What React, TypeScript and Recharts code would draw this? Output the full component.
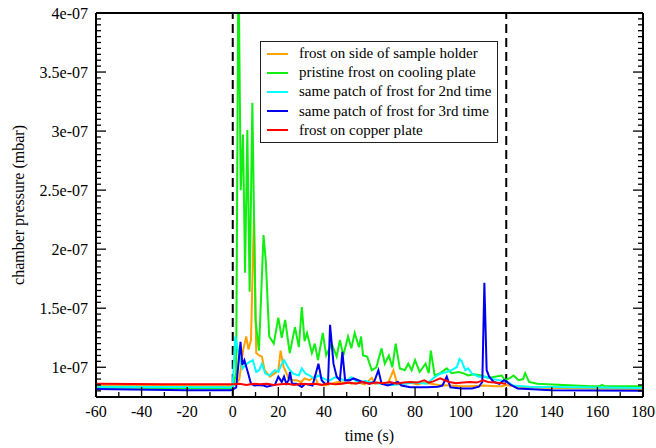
import { Label, Line, LineChart, ReferenceLine, XAxis, YAxis } from 'recharts'

const FONT = '"Liberation Serif", "Times New Roman", serif'

// pressure values are in units of 1e-8 mbar
const seriesNames = [
  'frost on side of sample holder',
  'pristine frost on cooling plate',
  'same patch of frost for 2nd time',
  'same patch of frost for 3rd time',
  'frost on copper plate',
]
const seriesColors = ['#ffa000', '#11ee11', '#00ffff', '#0000ee', '#ff0000']

const orangeT = [-60, -30, -1, 0, 1.5, 2.9, 4.6, 5.2, 5.9, 6.9, 8, 9.3, 10.3, 11.6, 12.8, 14, 16.3, 18.5, 20, 21, 22.3, 23, 24.5, 26, 28, 30, 31.5, 33.7, 35.9, 37.4, 40.4, 43.3, 46.3, 48.5, 50, 52, 55, 58, 61, 62.5, 65, 68, 70.5, 72, 75, 78, 81, 84, 87, 90, 95, 100, 105, 110, 115, 118, 120, 125, 140, 180]
const orangeV = [8.45, 8.42, 8.4, 8.45, 8.6, 9.0, 11.5, 12.0, 12.6, 11.5, 12.3, 22.9, 11.2, 11.0, 10.9, 9.75, 9.2, 9.5, 9.75, 11.4, 10.0, 9.75, 9.05, 8.9, 8.9, 8.75, 9.05, 8.9, 9.2, 8.6, 8.45, 8.6, 8.75, 8.7, 8.75, 8.6, 8.7, 8.55, 9.1, 8.6, 8.7, 8.6, 9.75, 8.7, 8.6, 8.7, 8.55, 8.7, 8.6, 8.5, 8.45, 8.4, 8.4, 8.45, 8.4, 8.4, 8.5, 8.35, 8.25, 8.15]

const greenT = [-60, -30, -1, 0, 1.5, 2.5, 3.5, 4.5, 5.4, 6.4, 7.4, 8.6, 10, 11.5, 13.5, 14.5, 16, 18, 20, 21.5, 23, 25, 27.3, 29, 30.3, 31.5, 32.6, 34.7, 36, 37.4, 39.5, 41, 43.4, 45.6, 47, 48.5, 50.6, 52, 53.5, 55.4, 56.3, 57.2, 59, 61, 63, 65.3, 66.7, 68.5, 70, 71.5, 73.3, 75.5, 77, 78.5, 80, 82, 84.6, 86, 86.9, 88.6, 91, 93.9, 96, 99, 101, 103.3, 106, 109, 112, 115, 118, 119.5, 121.7, 123.2, 125.4, 127.4, 128.3, 130, 133.6, 145, 157, 161, 162, 163, 180]
const greenV = [8.3, 8.25, 8.2, 8.3, 9.5, 45, 25.0, 29.7, 18, 30.1, 16.4, 32.4, 14.0, 11.4, 21.2, 19.0, 12.6, 12.0, 14.2, 12.5, 14.0, 11.2, 13.4, 11.7, 15.1, 12.2, 12.9, 11.2, 12.0, 10.6, 12.9, 11.0, 12.0, 10.9, 12.3, 11.0, 12.6, 11.6, 12.9, 11.7, 12.6, 11.0, 10.9, 9.75, 10.0, 11.6, 10.3, 11.0, 10.0, 12.0, 9.9, 9.75, 10.3, 9.75, 10.6, 9.6, 10.3, 9.5, 11.4, 9.3, 9.5, 9.9, 9.5, 9.6, 9.5, 9.3, 9.4, 9.3, 9.1, 9.2, 9.3, 8.9, 9.1, 9.3, 8.9, 9.0, 9.5, 8.75, 8.6, 8.5, 8.4, 8.4, 8.5, 8.4, 8.4]

const cyanT = [-60, -1, 0, 1.1, 2.9, 4.3, 5.5, 7.4, 8.8, 10.3, 11.6, 12.8, 14.2, 16, 18.5, 20, 21.3, 22.5, 23, 24.5, 26.5, 29, 30.3, 32, 33.7, 35.9, 37.4, 40.4, 42, 45, 47.5, 49.8, 52, 54, 56, 58, 61, 65, 70, 75, 80, 85, 88.9, 91, 93.9, 96, 98.3, 99.5, 100.5, 102, 103.3, 105, 108, 111, 114, 117, 120.6, 123, 130, 150, 180]
const cyanV = [8.35, 8.3, 8.4, 12.6, 10.9, 9.9, 10.2, 10.45, 10.6, 9.6, 9.75, 10.3, 9.5, 9.3, 9.75, 9.6, 10.2, 10.6, 10.45, 9.9, 9.45, 9.3, 9.9, 9.45, 9.3, 9.0, 9.3, 9.0, 8.85, 9.15, 9.0, 8.85, 9.15, 8.85, 8.7, 8.85, 8.7, 8.6, 8.5, 8.6, 8.7, 8.6, 9.2, 9.45, 9.6, 9.75, 10.0, 10.7, 10.5, 9.75, 9.9, 9.45, 9.2, 9.2, 9.0, 8.9, 8.75, 8.45, 8.35, 8.3, 8.25]

const blueT = [-60, -20, -1, 0, 1.5, 2.3, 3.4, 4.2, 5.1, 6.8, 8, 9.5, 11.5, 13.5, 15, 17, 18.5, 20, 21.5, 22.5, 23.5, 24.5, 25.1, 26, 28, 30.3, 31.8, 35, 37.6, 39, 40.4, 41.8, 42.7, 44.2, 45.6, 47, 48.1, 49.3, 51.5, 53, 55, 57, 60, 62, 63.9, 65.3, 68, 72.5, 74, 78, 85, 90, 92, 93.9, 95.5, 100, 105, 108, 109.5, 110.4, 111.4, 112.5, 114.5, 117, 119, 120, 122, 125, 140, 180]
const blueV = [8.15, 8.05, 8.05, 8.1, 8.3, 9.9, 12.15, 10.2, 10.6, 9.45, 8.6, 8.45, 8.5, 8.45, 8.35, 8.45, 8.5, 9.2, 8.75, 9.2, 8.6, 8.9, 9.6, 8.6, 8.6, 8.33, 8.6, 8.45, 10.3, 8.9, 8.6, 8.6, 13.6, 10.3, 9.2, 8.9, 11.3, 8.9, 8.9, 9.05, 8.9, 8.75, 8.6, 8.75, 9.75, 8.6, 8.45, 8.75, 8.45, 8.3, 8.3, 8.35, 8.45, 9.2, 8.3, 8.2, 8.2, 8.35, 8.75, 17.15, 9.75, 9.2, 8.75, 8.6, 8.9, 8.8, 8.5, 8.2, 8.05, 8.0]

const redT = [-60, -30, -1, 0, 3, 6, 9, 12, 15, 18, 21, 24, 27, 30, 33, 36, 39, 42, 45, 48, 51, 54, 57, 60, 63, 66, 69, 72, 75, 78, 81, 84, 86, 88, 91, 93, 95, 98, 101, 104, 107, 109.9, 112, 115, 118, 120]
const redV = [8.6, 8.57, 8.55, 8.55, 8.6, 8.5, 8.6, 8.55, 8.6, 8.5, 8.55, 8.6, 8.5, 8.6, 8.55, 8.6, 8.5, 8.65, 8.55, 8.6, 8.7, 8.6, 8.75, 8.6, 8.7, 8.65, 8.75, 8.6, 8.7, 8.75, 8.7, 8.9, 8.7, 8.8, 9.07, 8.9, 8.75, 8.65, 8.7, 8.75, 8.7, 8.9, 8.75, 8.7, 8.65, 8.6]

const xMajor = [-60, -40, -20, 0, 20, 40, 60, 80, 100, 120, 140, 160, 180]
const xLabels = ['-60', '-40', '-20', '0', '20', '40', '60', '80', '100', '120', '140', '160', '180']
const yMajor = [10, 15, 20, 25, 30, 35, 40]
const yLabels = ['1e-07', '1.5e-07', '2e-07', '2.5e-07', '3e-07', '3.5e-07', '4e-07']
const markers = [0, 120]

const xTicks: number[] = []
for (let t = -60; t <= 180; t += 10) xTicks.push(t)
const yTicks: number[] = []
for (let k = 15; k <= 80; k++) yTicks.push(k / 2)

const series = [
  { t: orangeT, v: orangeV },
  { t: greenT, v: greenV },
  { t: cyanT, v: cyanV },
  { t: blueT, v: blueV },
  { t: redT, v: redV },
].map((s, i) => ({
  name: seriesNames[i],
  color: seriesColors[i],
  data: s.t.map((t, j) => ({ t, v: s.v[j] })),
}))

const tickStroke = { stroke: '#000', strokeWidth: 1.3 }

function LeftTick(props: any) {
  const { x, y, payload } = props
  const ax = x + 8
  const i = yMajor.indexOf(payload.value)
  return (
    <g>
      <line x1={ax} x2={ax + (i >= 0 ? 10 : 5)} y1={y} y2={y} {...tickStroke} />
      {i >= 0 ? (
        <text x={x} y={y} dy="0.35em" textAnchor="end" fontSize={16} fontFamily={FONT} fill="#000">
          {yLabels[i]}
        </text>
      ) : null}
    </g>
  )
}

function RightTick(props: any) {
  const { x, y, payload } = props
  const len = yMajor.includes(payload.value) ? 10 : 5
  return <line x1={x} x2={x - len} y1={y} y2={y} {...tickStroke} />
}

function BottomTick(props: any) {
  const { x, y, payload } = props
  const ay = y - 9
  const i = xMajor.indexOf(payload.value)
  return (
    <g>
      <line x1={x} x2={x} y1={ay} y2={ay - (i >= 0 ? 10 : 5)} {...tickStroke} />
      {i >= 0 ? (
        <text x={x} y={y} dy="0.71em" textAnchor="middle" fontSize={16} fontFamily={FONT} fill="#000">
          {xLabels[i]}
        </text>
      ) : null}
    </g>
  )
}

function TopTick(props: any) {
  const { x, y, payload } = props
  const len = xMajor.includes(payload.value) ? 10 : 5
  return <line x1={x} x2={x} y1={y} y2={y + len} {...tickStroke} />
}

function LegendBox() {
  return (
    <div
      style={{
        position: 'absolute',
        left: 260,
        top: 41,
        width: 238,
        height: 102,
        boxSizing: 'border-box',
        border: '1px solid #222',
        background: '#fff',
        paddingTop: 2,
        fontFamily: FONT,
        fontSize: 15,
        color: '#000',
      }}
    >
      {series.map((s) => (
        <div key={s.name} style={{ display: 'flex', alignItems: 'center', height: 19.2 }}>
          <div style={{ width: 21, height: 2, marginLeft: 6, background: s.color }} />
          <span style={{ marginLeft: 11, whiteSpace: 'nowrap' }}>{s.name}</span>
        </div>
      ))}
    </div>
  )
}

export default function App() {
  const axisLine = { stroke: '#000', strokeWidth: 2 }
  return (
    <div style={{ position: 'absolute', left: 0, top: 0, width: 656, height: 448, background: '#fff' }}>
      <LineChart width={656} height={448} margin={{ top: 0, right: 0, bottom: 0, left: 0 }}>
        <XAxis
          xAxisId="b"
          dataKey="t"
          type="number"
          domain={[-60, 180]}
          ticks={xTicks}
          interval={0}
          allowDataOverflow
          height={51}
          tickSize={0}
          tickMargin={9}
          tickLine={false}
          axisLine={axisLine}
          tick={<BottomTick />}
        >
          <Label value="time (s)" position="insideBottom" offset={7} fontSize={16} fontFamily={FONT} fill="#000" />
        </XAxis>
        <XAxis
          xAxisId="top"
          orientation="top"
          type="number"
          domain={[-60, 180]}
          ticks={xTicks}
          interval={0}
          allowDataOverflow
          height={13}
          tickSize={0}
          tickMargin={0}
          tickLine={false}
          axisLine={axisLine}
          tick={<TopTick />}
        />
        <YAxis
          yAxisId="l"
          type="number"
          domain={[7.48, 40]}
          ticks={yTicks}
          interval={0}
          allowDataOverflow
          width={96}
          tickSize={0}
          tickMargin={8}
          tickLine={false}
          axisLine={axisLine}
          tick={<LeftTick />}
        >
          <Label
            value="chamber pressure (mbar)"
            angle={-90}
            position="insideLeft"
            offset={18}
            fontSize={16}
            fontFamily={FONT}
            fill="#000"
            style={{ textAnchor: 'middle' }}
          />
        </YAxis>
        <YAxis
          yAxisId="r"
          orientation="right"
          type="number"
          domain={[7.48, 40]}
          ticks={yTicks}
          interval={0}
          allowDataOverflow
          width={13}
          tickSize={0}
          tickMargin={0}
          tickLine={false}
          axisLine={axisLine}
          tick={<RightTick />}
        />
        {markers.map((m) => (
          <ReferenceLine
            key={m}
            x={m}
            xAxisId="b"
            yAxisId="l"
            stroke="#000"
            strokeWidth={2}
            strokeDasharray="9 5"
          />
        ))}
        {series.map((s) => (
          <Line
            key={s.name}
            xAxisId="b"
            yAxisId="l"
            data={s.data}
            dataKey="v"
            name={s.name}
            type="linear"
            stroke={s.color}
            strokeWidth={2}
            dot={false}
            activeDot={false}
            isAnimationActive={false}
          />
        ))}
      </LineChart>
      <LegendBox />
    </div>
  )
}
